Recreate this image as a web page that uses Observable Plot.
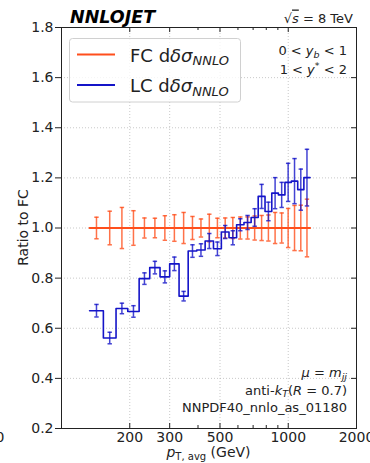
<!DOCTYPE html>
<html><head><meta charset="utf-8">
<script src="https://cdn.jsdelivr.net/npm/d3@7"></script>
<script src="https://cdn.jsdelivr.net/npm/@observablehq/plot@0.6"></script>
<style>
body{margin:0;background:#fff}
svg{font-family:"DejaVu Sans",sans-serif}
</style>
</head><body><div id="chart"></div>
<script>
// pT,avg bin edges (GeV)
const binEdges = [133,153,174,196,220,245,272,300,330,362,395,430,468,507,548,592,638,686,737,790,846,905,967,1032,1101,1172,1248];
// FC ratio (reference = 1) and its uncertainties
const fcRatio = [1.0,1.0,1.0,1.0,1.0,1.0,1.0,1.0,1.0,1.0,1.0,1.0,1.0,1.0,1.0,1.0,1.0,1.0,1.0,1.0,1.0,1.0,1.0,1.0,1.0,1.0];
const fcErr   = [0.043,0.067,0.082,0.069,0.040,0.039,0.049,0.053,0.062,0.046,0.036,0.055,0.039,0.040,0.042,0.044,0.044,0.048,0.050,0.052,0.062,0.060,0.078,0.090,0.091,0.115];
// LC ratio to FC and its uncertainties
const lcRatio = [0.670,0.561,0.679,0.667,0.798,0.842,0.805,0.857,0.728,0.908,0.912,0.948,0.917,0.984,0.961,1.013,1.022,1.042,1.126,1.066,1.139,1.132,1.182,1.187,1.153,1.201];
const lcErr   = [0.025,0.023,0.021,0.023,0.023,0.025,0.024,0.027,0.019,0.025,0.025,0.030,0.027,0.026,0.028,0.024,0.028,0.035,0.048,0.037,0.062,0.050,0.076,0.090,0.082,0.113];
// ticks
const xTickLabels = [200,300,500,1000,2000];
const xMinorTicks = [400,600,700,800,900];
const yTicks = [0.2,0.4,0.6,0.8,1.0,1.2,1.4,1.6,1.8];

const W=370,H=463,mL=61,mR=14,mT=27,mB=35;
const fw=W-mL-mR, fh=H-mT-mB;
const ORANGE="#ff4f1c", BLUE="#1414c8", INK="#222";

function stepPts(vals){
  const p = vals.map((v,i)=>({x:binEdges[i], y:v}));
  p.push({x:binEdges[binEdges.length-1], y:vals[vals.length-1]});
  return p;
}
function rows(vals, errs){
  return vals.map((v,i)=>({x:Math.sqrt(binEdges[i]*binEdges[i+1]), y:v, lo:v-errs[i], hi:v+errs[i]}));
}
const capSym = {draw(ctx,size){const r=Math.sqrt(size/Math.PI); ctx.moveTo(-r,0); ctx.lineTo(r,0);}};
function errMarks(vals, errs, color){
  const d = rows(vals, errs);
  return [
    Plot.ruleX(d,{x:"x",y1:"lo",y2:"hi",stroke:color,strokeWidth:1.5,strokeOpacity:0.8}),
    Plot.dot(d,{x:"x",y:"lo",symbol:capSym,r:2.2,stroke:color,strokeWidth:1.5,strokeOpacity:0.8}),
    Plot.dot(d,{x:"x",y:"hi",symbol:capSym,r:2.2,stroke:color,strokeWidth:1.5,strokeOpacity:0.8})
  ];
}

const plot = Plot.plot({
  width:W, height:H, marginLeft:mL, marginRight:mR, marginTop:mT, marginBottom:mB,
  style:{fontSize:"14px", fontFamily:"DejaVu Sans, sans-serif", color:INK, background:"#fff"},
  x:{type:"log", domain:[100,2000], axis:null},
  y:{domain:[0.2,1.8]},
  marks:[
    Plot.gridX(xTickLabels.slice(0,4),{stroke:"#aaa",strokeOpacity:0.8,strokeDasharray:"1,2",strokeWidth:0.8}),
    Plot.gridY(yTicks.slice(1,8),{stroke:"#aaa",strokeOpacity:0.8,strokeDasharray:"1,2",strokeWidth:0.8}),
    Plot.line(stepPts(fcRatio),{x:"x",y:"y",curve:"step-after",stroke:ORANGE,strokeWidth:2}),
    ...errMarks(fcRatio, fcErr, ORANGE),
    Plot.line(stepPts(lcRatio),{x:"x",y:"y",curve:"step-after",stroke:BLUE,strokeWidth:1.6}),
    ...errMarks(lcRatio, lcErr, BLUE),
    Plot.frame({stroke:INK,strokeWidth:1}),
    Plot.axisY(yTicks,{anchor:"left",tickSize:6,tickPadding:2,tickFormat:d=>d.toFixed(1),label:null,stroke:INK,fill:INK}),
    Plot.tickY(yTicks,{y:d=>d,insetLeft:fw-5,stroke:INK}),
    Plot.text(xTickLabels,{x:d=>d,frameAnchor:"bottom",lineAnchor:"top",dy:4,text:d=>String(d),fill:INK,fontSize:14}),
    Plot.tickX(xTickLabels,{x:d=>d,insetTop:fh-5,stroke:INK}),
    Plot.tickX(xMinorTicks,{x:d=>d,insetTop:fh-3,stroke:INK}),
    Plot.tickX(xTickLabels,{x:d=>d,insetBottom:fh-5,stroke:INK}),
    Plot.tickX(xMinorTicks,{x:d=>d,insetBottom:fh-3,stroke:INK})
  ]
});
document.getElementById("chart").appendChild(plot);

const svg = d3.select(plot);
function rich(x, y, anchor, size, parts){
  const t = svg.append("text").attr("x",x).attr("y",y).attr("text-anchor",anchor)
    .attr("font-size",size).attr("fill",INK);
  let shift = 0;
  for (const p of parts){
    const s = t.append("tspan").text(p.t);
    const target = p.sub ? 3.5*(p.k||1) : p.sup ? -5 : 0;
    if (target !== shift){ s.attr("dy", target - shift); shift = target; }
    if (p.i) s.attr("font-style","italic");
    if (p.fs) s.attr("font-size", p.fs);
    if (p.ov) s.attr("text-decoration","overline");
  }
  return t;
}

// header
svg.append("text").attr("x",70).attr("y",22.5).attr("text-anchor","start").attr("font-size",17.5).attr("font-weight","bold")
  .attr("font-style","italic").attr("fill","#000").text("NNLOJET");
rich(353,22.5,"end",13,[{t:"√"},{t:"s",i:true,ov:true},{t:" = 8 TeV"}]);

// legend
svg.append("rect").attr("x",69.5).attr("y",38.5).attr("width",171).attr("height",63.5).attr("rx",3)
  .attr("fill","#fff").attr("fill-opacity",0.8).attr("stroke","#d0d0d0");
svg.append("line").attr("x1",77).attr("x2",115).attr("y1",54.5).attr("y2",54.5).attr("stroke",ORANGE).attr("stroke-width",2);
svg.append("line").attr("x1",77).attr("x2",115).attr("y1",85).attr("y2",85).attr("stroke",BLUE).attr("stroke-width",2);
rich(130,61.5,"start",18,[{t:"FC d"},{t:"δσ",i:true},{t:"NNLO",i:true,sub:true,fs:13}]);
rich(130,92,"start",18,[{t:"LC d"},{t:"δσ",i:true},{t:"NNLO",i:true,sub:true,fs:13}]);

// rapidity bin
rich(347,55,"end",13,[{t:"0 < "},{t:"y",i:true},{t:"b",i:true,sub:true,fs:9.5,k:0.8},{t:" < 1"}]);
rich(347,73.5,"end",13,[{t:"1 < "},{t:"y",i:true},{t:"*",sup:true,fs:9.5},{t:" < 2"}]);

// bottom-right info
rich(347,377,"end",13,[{t:"μ",i:true},{t:" = "},{t:"m",i:true},{t:"jj",i:true,sub:true,fs:9.5,k:0.8}]);
rich(347,394.5,"end",13,[{t:"anti-"},{t:"k",i:true},{t:"T",i:true,sub:true,fs:9.5,k:0.8},{t:"("},{t:"R",i:true},{t:" = 0.7)"}]);
rich(347,411.5,"end",13,[{t:"NNPDF40_nnlo_as_01180"}]);

// axis labels
rich(208.5,457,"middle",14,[{t:"p",i:true},{t:"T, avg",sub:true,fs:10,k:0.8},{t:" (GeV)"}]);
svg.append("text").attr("transform","translate(28,227.5) rotate(-90)").attr("text-anchor","middle")
  .attr("font-size",14).attr("fill",INK).text("Ratio to FC");

// stray label fragment at left edge
svg.append("text").attr("x",4.5).attr("y",442).attr("text-anchor","end").attr("font-size",14).attr("fill",INK).text("0");
</script>
</body></html>
